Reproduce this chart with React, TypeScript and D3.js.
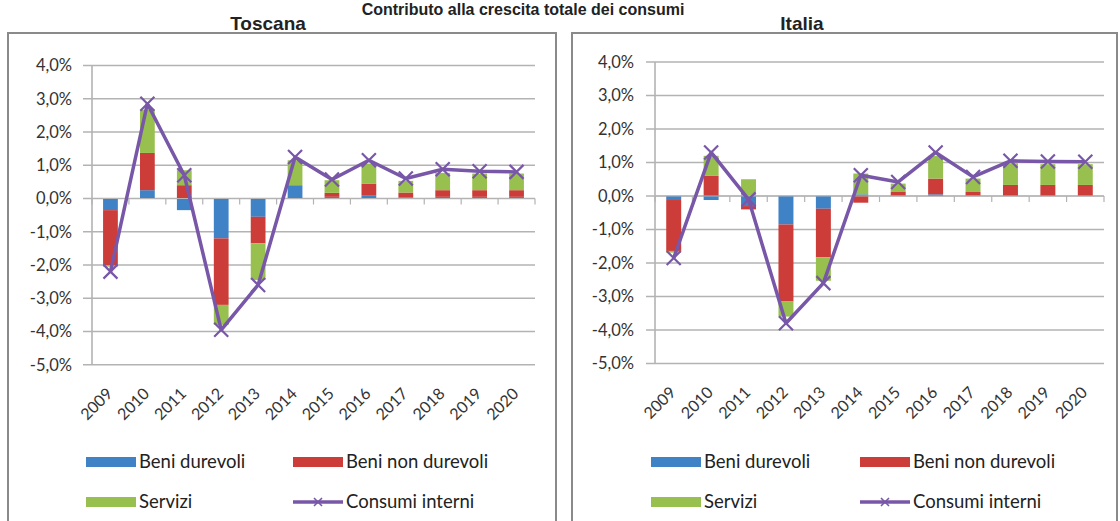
import React from 'react';
import * as d3 from 'd3';

// ---- data ----
const years = ['2009', '2010', '2011', '2012', '2013', '2014', '2015', '2016', '2017', '2018', '2019', '2020'];

const toscanaDurevoli = [-0.35, 0.25, -0.35, -1.2, -0.55, 0.4, 0.05, 0.1, 0.03, 0.05, 0.05, 0.05];
const toscanaNonDurevoli = [-1.65, 1.12, 0.4, -2.0, -0.8, 0.0, 0.12, 0.35, 0.15, 0.2, 0.2, 0.2];
const toscanaServizi = [-0.05, 1.3, 0.45, -0.6, -1.1, 0.75, 0.38, 0.6, 0.35, 0.52, 0.5, 0.5];
const toscanaConsumi = [-2.2, 2.85, 0.7, -3.95, -2.6, 1.25, 0.57, 1.15, 0.6, 0.88, 0.82, 0.8];

const italiaDurevoli = [-0.12, -0.12, -0.3, -0.85, -0.38, 0.05, 0.02, 0.05, 0.02, 0.03, 0.03, 0.03];
const italiaNonDurevoli = [-1.52, 0.6, -0.1, -2.3, -1.45, -0.2, 0.1, 0.47, 0.1, 0.3, 0.3, 0.3];
const italiaServizi = [-0.05, 0.6, 0.5, -0.45, -0.7, 0.62, 0.25, 0.68, 0.4, 0.65, 0.62, 0.62];
const italiaConsumi = [-1.85, 1.3, -0.1, -3.8, -2.6, 0.62, 0.42, 1.3, 0.57, 1.05, 1.03, 1.02];

const yTicks = [4, 3, 2, 1, 0, -1, -2, -3, -4, -5];
const seriesKeys = ['durevoli', 'nonDurevoli', 'servizi'];
const seriesNames = ['Beni durevoli', 'Beni non durevoli', 'Servizi', 'Consumi interni'];

const mainTitle = 'Contributo alla crescita totale dei consumi';

// ---- styles ----
const COLORS: Record<string, string> = {
  durevoli: '#3f82c6',
  nonDurevoli: '#cc3c38',
  servizi: '#98c04e',
  consumi: '#7857a8',
};
const GRID = '#b3b3b3';
const LABEL_FONT = "Lato, 'Open Sans', 'DejaVu Sans', sans-serif";
const TITLE_FONT = "'Liberation Sans', Arial, Helvetica, sans-serif";

const fmt = (v: number) => v.toFixed(1).replace('.', ',') + '%';

type PanelProps = {
  title: string;
  titleX: number;
  box: { x: number; y: number; w: number; h: number };
  plot: { x0: number; x1: number; yTop: number; yBottom: number };
  labelRight: number;
  legend: { col1: number; col2: number; row1: number; row2: number };
  durevoli: number[];
  nonDurevoli: number[];
  servizi: number[];
  consumi: number[];
};

function XMarker({ cx, cy, r, color, sw }: { cx: number; cy: number; r: number; color: string; sw: number }) {
  return (
    <path
      d={`M${cx - r},${cy - r}L${cx + r},${cy + r}M${cx - r},${cy + r}L${cx + r},${cy - r}`}
      stroke={color}
      strokeWidth={sw}
      fill="none"
    />
  );
}

function Panel(p: PanelProps) {
  const x = d3.scaleBand<string>().domain(years).range([p.plot.x0, p.plot.x1]).paddingInner(0.6).paddingOuter(0.3);
  const y = d3.scaleLinear().domain([-5, 4]).range([p.plot.yBottom, p.plot.yTop]);

  const rows = years.map((yr, i) => ({
    year: yr,
    durevoli: p.durevoli[i],
    nonDurevoli: p.nonDurevoli[i],
    servizi: p.servizi[i],
  }));
  const stacked = d3.stack<any>().keys(seriesKeys).offset(d3.stackOffsetDiverging)(rows);

  const line = d3
    .line<number>()
    .x((_, i) => (x(years[i]) as number) + x.bandwidth() / 2)
    .y((d) => y(d));

  const zeroY = y(0);
  const boundaries = d3.range(years.length + 1).map((i) => p.plot.x0 + (p.plot.x1 - p.plot.x0) * (i / years.length));

  const swW = 50;
  const swH = 10;
  const legendItems = [
    { key: 'durevoli', name: seriesNames[0], lx: p.legend.col1, ly: p.legend.row1 },
    { key: 'nonDurevoli', name: seriesNames[1], lx: p.legend.col2, ly: p.legend.row1 },
    { key: 'servizi', name: seriesNames[2], lx: p.legend.col1, ly: p.legend.row2 },
    { key: 'consumi', name: seriesNames[3], lx: p.legend.col2, ly: p.legend.row2 },
  ];

  return (
    <g>
      <text
        x={p.titleX}
        y={30}
        textAnchor="middle"
        fontFamily={TITLE_FONT}
        fontWeight="bold"
        fontSize={19}
        fill="#222"
      >
        {p.title}
      </text>
      <rect x={p.box.x} y={p.box.y} width={p.box.w} height={p.box.h} fill="#fff" stroke="#8a8a8a" strokeWidth={2} />

      {/* gridlines */}
      {yTicks.map((t) => (
        <g key={t}>
          <line x1={p.plot.x0 - 9} x2={p.plot.x1} y1={y(t)} y2={y(t)} stroke={GRID} strokeWidth={1.6} />
          <text
            x={p.labelRight}
            y={y(t)}
            dy="0.35em"
            textAnchor="end"
            fontFamily={LABEL_FONT}
            fontSize={16.5}
            fill="#333"
          >
            {fmt(t)}
          </text>
        </g>
      ))}
      {/* y axis line */}
      <line x1={p.plot.x0} x2={p.plot.x0} y1={y(4)} y2={y(-5)} stroke={GRID} strokeWidth={1.6} />

      {/* bars */}
      {stacked.map((s) => (
        <g key={s.key} fill={COLORS[s.key]}>
          {s.map((d, i) => {
            const top = y(Math.max(d[0], d[1]));
            const bot = y(Math.min(d[0], d[1]));
            return (
              <rect
                key={i}
                x={x(years[i]) as number}
                y={top}
                width={x.bandwidth()}
                height={Math.max(0, bot - top)}
              />
            );
          })}
        </g>
      ))}

      {/* zero axis ticks */}
      <line x1={p.plot.x0} x2={p.plot.x1} y1={zeroY} y2={zeroY} stroke={GRID} strokeWidth={1.2} />
      {boundaries.map((bx, i) => (
        <line key={i} x1={bx} x2={bx} y1={zeroY} y2={zeroY + 6} stroke={GRID} strokeWidth={1.2} />
      ))}

      {/* consumi line */}
      <path d={line(p.consumi) || ''} fill="none" stroke={COLORS.consumi} strokeWidth={3.5} strokeLinejoin="round" />
      {p.consumi.map((v, i) => (
        <XMarker
          key={i}
          cx={(x(years[i]) as number) + x.bandwidth() / 2}
          cy={y(v)}
          r={7}
          color={COLORS.consumi}
          sw={2.2}
        />
      ))}

      {/* x labels */}
      {years.map((yr) => {
        const cx = (x(yr) as number) + x.bandwidth() / 2 + 3;
        const cy = p.plot.yBottom + 30;
        return (
          <text
            key={yr}
            x={cx}
            y={cy}
            transform={`rotate(-45 ${cx} ${cy})`}
            textAnchor="end"
            fontFamily={LABEL_FONT}
            fontSize={16}
            fill="#333"
          >
            {yr}
          </text>
        );
      })}

      {/* legend */}
      {legendItems.map((it) => (
        <g key={it.key}>
          {it.key === 'consumi' ? (
            <g>
              <line x1={it.lx} x2={it.lx + swW} y1={it.ly} y2={it.ly} stroke={COLORS.consumi} strokeWidth={3.5} />
              <XMarker cx={it.lx + swW / 2} cy={it.ly} r={4} color={COLORS.consumi} sw={1.6} />
            </g>
          ) : (
            <rect x={it.lx} y={it.ly - swH / 2} width={swW} height={swH} fill={COLORS[it.key]} />
          )}
          <text
            x={it.lx + swW + 3}
            y={it.ly}
            dy="0.35em"
            fontFamily={LABEL_FONT}
            fontSize={18.5}
            fill="#222"
          >
            {it.name}
          </text>
        </g>
      ))}
    </g>
  );
}

export default function App() {
  return (
    <svg
      width={1120}
      height={521}
      viewBox="0 0 1120 521"
      style={{ position: 'absolute', left: 0, top: 0, background: '#fff' }}
    >
      <rect x={0} y={0} width={1120} height={521} fill="#fff" />
      <text x={523} y={15} textAnchor="middle" fontFamily={TITLE_FONT} fontWeight="bold" fontSize={16} fill="#222">
        {mainTitle}
      </text>
      <Panel
        title="Toscana"
        titleX={268}
        box={{ x: 8, y: 33, w: 548, h: 520 }}
        plot={{ x0: 92, x1: 535, yTop: 65.5, yBottom: 364.75 }}
        labelRight={72}
        legend={{ col1: 86, col2: 293, row1: 462, row2: 502 }}
        durevoli={toscanaDurevoli}
        nonDurevoli={toscanaNonDurevoli}
        servizi={toscanaServizi}
        consumi={toscanaConsumi}
      />
      <Panel
        title="Italia"
        titleX={802}
        box={{ x: 572, y: 33, w: 545, h: 520 }}
        plot={{ x0: 655, x1: 1104, yTop: 62, yBottom: 363.5 }}
        labelRight={634}
        legend={{ col1: 651, col2: 860, row1: 462, row2: 502 }}
        durevoli={italiaDurevoli}
        nonDurevoli={italiaNonDurevoli}
        servizi={italiaServizi}
        consumi={italiaConsumi}
      />
    </svg>
  );
}
